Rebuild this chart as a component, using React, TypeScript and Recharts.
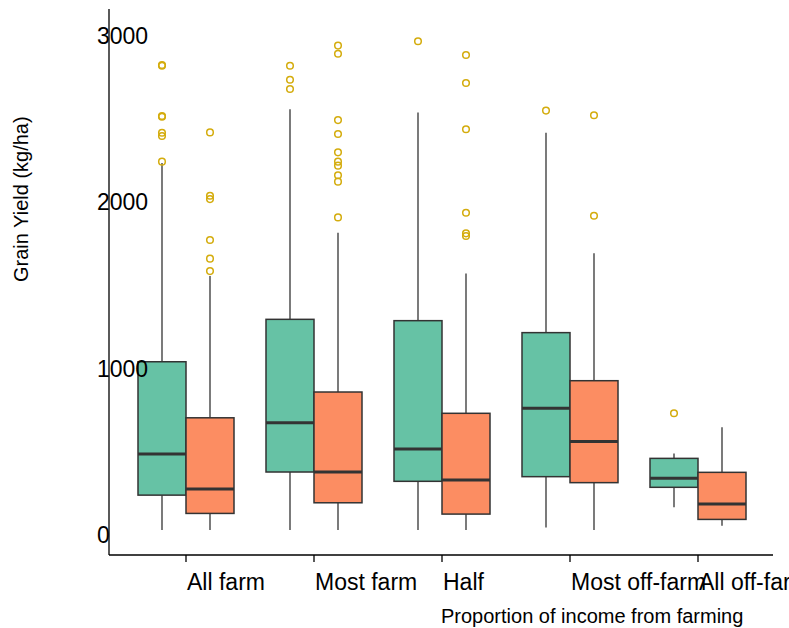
import React from 'react';
import { ComposedChart, Bar, XAxis, YAxis, Label } from 'recharts';

const categories = ['All farm', 'Most farm', 'Half', 'Most off-farm', 'All off-farm'];

// series A (green)
const aLow = [30, 30, 30, 46, 167];
const aQ1 = [240, 379, 323, 351, 287];
const aMedian = [487, 675, 517, 762, 341];
const aQ3 = [1042, 1297, 1289, 1217, 461];
const aHigh = [2237, 2560, 2541, 2419, 491];
const aOutliers = [
  [2245, 2399, 2419, 2515, 2520, 2822, 2826],
  [2682, 2738, 2822],
  [2969],
  [2552],
  [732],
];

// series B (orange)
const bLow = [30, 30, 30, 30, 56];
const bQ1 = [130, 194, 126, 315, 94];
const bMedian = [277, 379, 331, 563, 186];
const bQ3 = [705, 860, 732, 928, 377];
const bHigh = [1557, 1818, 1573, 1694, 648];
const bOutliers = [
  [1587, 1662, 1774, 2020, 2040, 2421],
  [1910, 2125, 2163, 2221, 2245, 2301, 2411, 2495, 2894, 2943],
  [1798, 1814, 1938, 2440, 2718, 2886],
  [1920, 2524],
  [],
];

const yTicks = [0, 1000, 2000, 3000];

const data = categories.map((name, i) => ({
  name,
  a: { low: aLow[i], q1: aQ1[i], median: aMedian[i], q3: aQ3[i], high: aHigh[i], outliers: aOutliers[i] },
  b: { low: bLow[i], q1: bQ1[i], median: bMedian[i], q3: bQ3[i], high: bHigh[i], outliers: bOutliers[i] },
}));

const FONT = '"Liberation Sans", Arial, sans-serif';
const EDGE = '#333333';
const OUTLIER = '#d4ac0d';

function makeBox(key: 'a' | 'b', fill: string) {
  return (props: any) => {
    const { x, y, width, height, payload } = props;
    const s = payload[key];
    const top = Math.min(y, y + height);
    const bottom = Math.max(y, y + height);
    const k = (bottom - top) / (s.q3 - s.q1);
    const py = (v: number) => bottom - (v - s.q1) * k;
    const cx = x + width / 2;
    return (
      <g>
        <line x1={cx} x2={cx} y1={py(s.high)} y2={top} stroke={EDGE} strokeWidth={1.3} />
        <line x1={cx} x2={cx} y1={bottom} y2={py(s.low)} stroke={EDGE} strokeWidth={1.3} />
        <rect x={x} y={top} width={width} height={bottom - top} fill={fill} stroke={EDGE} strokeWidth={1.5} />
        <line x1={x} x2={x + width} y1={py(s.median)} y2={py(s.median)} stroke={EDGE} strokeWidth={3} />
        {s.outliers.map((v: number, j: number) => (
          <circle key={j} cx={cx} cy={py(v)} r={3.3} fill="none" stroke={OUTLIER} strokeWidth={1.5} />
        ))}
      </g>
    );
  };
}

const XTick = (props: any) => {
  const { x, y, payload } = props;
  return (
    <text x={x + 1} y={y + 28} textAnchor="start" fontSize={23} fontFamily={FONT} fill="#000">
      {payload.value}
    </text>
  );
};

const YTick = (props: any) => {
  const { x, y, payload } = props;
  return (
    <text x={x - 12} y={y} dy={8} textAnchor="start" fontSize={23} fontFamily={FONT} fill="#000">
      {payload.value}
    </text>
  );
};

export default function App() {
  return (
    <div style={{ position: 'absolute', left: 0, top: 0, width: 789, height: 628, background: '#fff' }}>
      <ComposedChart
        width={789}
        height={628}
        data={data}
        margin={{ top: 9, right: 16, bottom: 33, left: 49 }}
        barGap={0}
      >
        <XAxis
          dataKey="name"
          height={40}
          padding={{ left: 13, right: 11 }}
          axisLine={{ stroke: '#000', strokeWidth: 1.3 }}
          tickLine={{ stroke: '#000', strokeWidth: 1.3 }}
          tickSize={7}
          tickMargin={0}
          tick={<XTick />}
          interval={0}
        >
          <Label
            content={(p: any) => {
              const vb = p.viewBox;
              return (
                <text
                  x={vb.x + vb.width / 2}
                  y={623}
                  textAnchor="start"
                  fontSize={20}
                  fontFamily={FONT}
                  fill="#000"
                >
                  Proportion of income from farming
                </text>
              );
            }}
          />
        </XAxis>
        <YAxis
          width={60}
          type="number"
          domain={[-120, 3163]}
          allowDataOverflow
          ticks={yTicks}
          axisLine={{ stroke: '#000', strokeWidth: 1.3 }}
          tickLine={false}
          tickSize={0}
          tickMargin={0}
          tick={<YTick />}
          interval={0}
        >
          <Label
            content={(p: any) => {
              const vb = p.viewBox;
              const cy = vb.y + vb.height / 2;
              return (
                <text
                  x={28}
                  y={cy}
                  transform={`rotate(-90, 28, ${cy})`}
                  textAnchor="start"
                  fontSize={20}
                  fontFamily={FONT}
                  fill="#000"
                >
                  Grain Yield (kg/ha)
                </text>
              );
            }}
          />
        </YAxis>
        <Bar
          dataKey={(d: any) => [d.a.q1, d.a.q3]}
          barSize={48}
          shape={makeBox('a', '#66c2a5')}
          isAnimationActive={false}
        />
        <Bar
          dataKey={(d: any) => [d.b.q1, d.b.q3]}
          barSize={48}
          shape={makeBox('b', '#fc8d62')}
          isAnimationActive={false}
        />
      </ComposedChart>
    </div>
  );
}
